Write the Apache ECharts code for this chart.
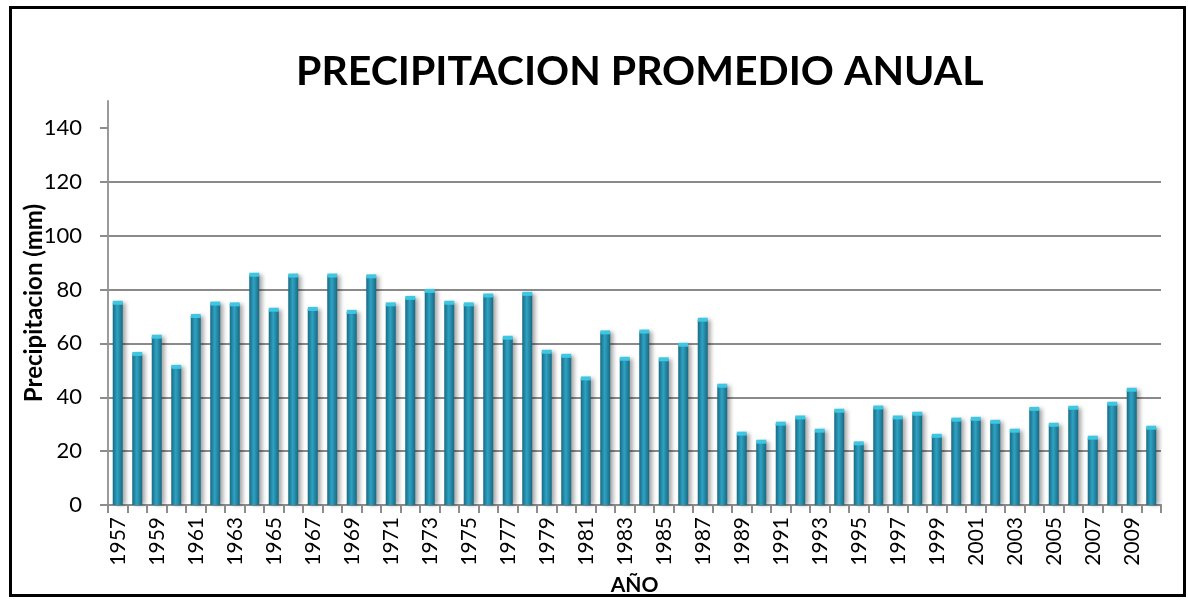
<!DOCTYPE html>
<html>
<head>
<meta charset="utf-8">
<script src="https://cdn.jsdelivr.net/npm/echarts@6/dist/echarts.min.js"></script>
<style>
  html, body { margin: 0; padding: 0; background: #ffffff; }
  #chart { width: 1188px; height: 601px; }
</style>
</head>
<body>
<div id="chart"></div>
<script>
// Annual mean precipitation (mm), 1957-2010
const years = [
  '1957','1958','1959','1960','1961','1962','1963','1964','1965','1966',
  '1967','1968','1969','1970','1971','1972','1973','1974','1975','1976',
  '1977','1978','1979','1980','1981','1982','1983','1984','1985','1986',
  '1987','1988','1989','1990','1991','1992','1993','1994','1995','1996',
  '1997','1998','1999','2000','2001','2002','2003','2004','2005','2006',
  '2007','2008','2009','2010'
];
const precipitation = [
  75.1, 56.1, 62.5, 51.3, 70.2, 74.8, 74.5, 85.5, 72.5, 85.2,
  72.8, 85.2, 71.7, 84.9, 74.5, 76.9, 79.5, 75.1, 74.5, 77.8,
  62.1, 78.4, 56.9, 55.4, 47.0, 64.1, 54.3, 64.4, 54.1, 59.5,
  68.8, 44.3, 26.5, 23.5, 30.2, 32.5, 27.6, 35.0, 22.9, 36.2,
  32.5, 33.9, 25.7, 31.7, 32.0, 30.9, 27.6, 35.7, 29.8, 36.1,
  25.0, 37.6, 42.8, 28.7
];
const yTicks = [0, 20, 40, 60, 80, 100, 120, 140];

const chart = echarts.init(document.getElementById('chart'));
const FONT = 'Lato';

chart.setOption({
  animation: false,
  backgroundColor: '#ffffff',
  title: {
    text: 'PRECIPITACION PROMEDIO ANUAL',
    left: 291,
    top: 46,
    textStyle: { fontFamily: FONT, fontWeight: 'bold', fontSize: 41, color: '#000000' }
  },
  graphic: [{
    type: 'rect',
    shape: { x: 10.5, y: 7.5, width: 1174, height: 588 },
    style: { fill: 'none', stroke: '#000000', lineWidth: 3 },
    silent: true
  }],
  grid: { left: 108, right: 27, top: 101, bottom: 96, containLabel: false, outerBoundsMode: 'none' },
  xAxis: {
    type: 'category',
    data: years,
    boundaryGap: true,
    name: 'AÑO',
    nameLocation: 'middle',
    nameGap: 70,
    nameMoveOverlap: false,
    nameTextStyle: { fontFamily: FONT, fontWeight: 'bold', fontSize: 21, color: '#000000' },
    axisLine: { lineStyle: { color: '#8c8c8c', width: 2 } },
    axisTick: { show: true, interval: 0, length: 8, lineStyle: { color: '#8c8c8c', width: 2 } },
    axisLabel: {
      interval: 1,
      rotate: 90,
      margin: 12,
      fontFamily: FONT,
      fontSize: 21,
      color: '#000000'
    },
    splitLine: { show: false }
  },
  yAxis: {
    type: 'value',
    min: 0,
    max: 150,
    interval: 20,
    name: 'Precipitacion (mm)',
    nameLocation: 'middle',
    nameGap: 62,
    nameMoveOverlap: false,
    nameTextStyle: { fontFamily: FONT, fontWeight: 'bold', fontSize: 24, color: '#000000' },
    axisLine: { show: true, lineStyle: { color: '#9a9a9a', width: 2 } },
    axisTick: { show: true, length: 8, customValues: yTicks, lineStyle: { color: '#8c8c8c', width: 2 } },
    axisLabel: {
      customValues: yTicks,
      margin: 26,
      fontFamily: FONT,
      fontSize: 22,
      color: '#000000'
    },
    splitLine: { show: true, showMaxLine: false, lineStyle: { color: '#8a8a8a', width: 2 } }
  },
  series: [
    {
      type: 'bar',
      data: precipitation,
      barWidth: 10,
      itemStyle: {
        color: new echarts.graphic.LinearGradient(0, 0, 1, 0, [
          { offset: 0, color: '#186a82' },
          { offset: 0.45, color: '#2ea3c4' },
          { offset: 1, color: '#196880' }
        ]),
        shadowColor: 'rgba(0,0,0,0.35)',
        shadowBlur: 4,
        shadowOffsetX: 3,
        shadowOffsetY: 0
      },
      z: 2
    },
    {
      // light cap on top of each column
      type: 'pictorialBar',
      data: precipitation,
      symbol: 'rect',
      symbolSize: [10, 4],
      symbolPosition: 'end',
      symbolOffset: [0, '-50%'],
      barGap: '-100%',
      itemStyle: { color: '#3fc6e0' },
      silent: true,
      z: 3
    }
  ]
});
</script>
</body>
</html>
